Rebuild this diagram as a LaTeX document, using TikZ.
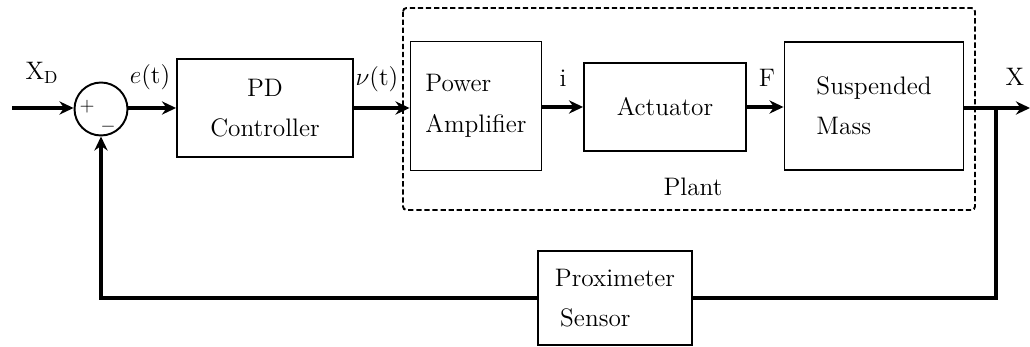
\documentclass[tikz,border=0pt]{standalone}
\usetikzlibrary{arrows.meta}

\tikzset{
  block/.style={draw, line width=1.1pt, align=left, inner sep=0pt,
    font=\fontsize{14.4}{23}\selectfont},
  sig/.style={line width=1.8pt, ->},
  wire/.style={line width=1.8pt},
  lbl/.style={inner sep=0pt, font=\fontsize{14.4}{18}\selectfont},
  sign/.style={inner sep=0pt, font=\fontsize{11}{12}\selectfont},
}

\begin{document}
\begin{tikzpicture}[>={Stealth[length=8pt,width=7.5pt]}, x=0.02cm, y=-0.02cm]
  \useasboundingbox (0,0) rectangle (1030,347);

  % summing junction
  \node[draw, circle, line width=1.1pt, minimum size=1.06cm, inner sep=0pt] (sum) at (101,109) {};
  \node[sign] (plus) at (87,107) {$+$};
  \node[sign] (minus) at (108,127) {$-$};

  % forward path blocks
  \node[block, align=center, minimum width=3.52cm, minimum height=1.96cm] (pd) at (265,108) {PD\\Controller};
  \node[block, minimum width=2.62cm, minimum height=2.58cm] (amp) at (476,106) {Power\\Amplifier};
  \node[block, minimum width=3.24cm, minimum height=1.76cm] (act) at (665,107) {Actuator};
  \node[block, minimum width=3.58cm, minimum height=2.56cm] (mass) at (874,106) {Suspended\\Mass};

  % plant boundary
  \draw[dashed, line width=1.1pt, dash pattern=on 3pt off 1.6pt, rounded corners=2pt] (403,8) rectangle (975,210);
  \node[lbl] (plant) at (693,187) {Plant};

  % feedback block
  \node[block, minimum width=3.08cm, minimum height=1.88cm] (prox) at (615,298) {Proximeter\\\hspace{3pt}Sensor};

  % free ends and corners
  \coordinate (xin) at (12,108);
  \coordinate (xout) at (1030,108);
  \coordinate (br) at (996,108);

  % signals
  \draw[sig] (xin) -- (sum.west |- xin);
  \draw[sig] (sum.east |- pd.west) -- (pd.west);
  \draw[sig] (pd.east) -- (pd.east -| amp.west);
  \draw[sig] (amp.east |- act.west) -- (act.west);
  \draw[sig] (act.east) -- (act.east -| mass.west);
  \draw[sig] (mass.east |- xout) -- (xout);

  % feedback loop
  \draw[wire] (br) |- (prox.east);
  \draw[sig] (prox.west) -| (sum.south);

  % signal labels
  \node[lbl] (xd) at (42,73) {X$_{\mathrm{D}}$};
  \node[lbl] (err) at (150,77) {$e$(t)};
  \node[lbl] (volt) at (377,79) {$\nu$(t)};
  \node[lbl] (cur) at (563,78) {i};
  \node[lbl] (force) at (767,78) {F};
  \node[lbl] (xo) at (1015,77) {X};
\end{tikzpicture}
\end{document}
